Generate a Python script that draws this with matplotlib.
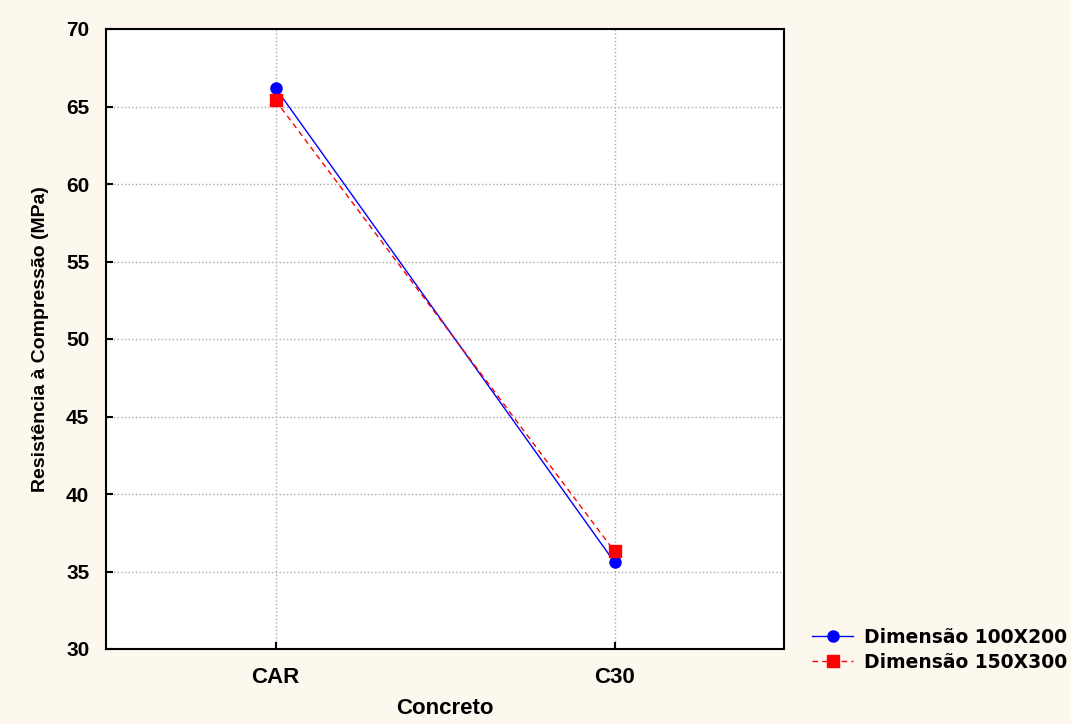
import matplotlib
matplotlib.use("Agg")
import matplotlib.pyplot as plt

categorias = ["CAR", "C30"]
dim_100x200 = [66.2, 35.6]
dim_150x300 = [65.4, 36.3]
rotulos = ["Dimensão 100X200", "Dimensão 150X300"]

plt.rcParams['font.family'] = ['Liberation Sans', 'DejaVu Sans']

fig = plt.figure(figsize=(10.71, 7.24), dpi=100)
fig.patch.set_facecolor('#fdf8ee')
ax = fig.add_axes([106 / 1071, 1 - 649 / 724, 678 / 1071, 620 / 724])
ax.set_facecolor('white')

x = range(len(categorias))
ax.plot(x, dim_100x200, color='blue', linestyle='-', linewidth=1,
        marker='o', markersize=8, label=rotulos[0])
ax.plot(x, dim_150x300, color='red', linestyle=(0, (4, 3)), linewidth=1,
        marker='s', markersize=8, label=rotulos[1])

ax.set_xlim(-0.5, 1.5)
ax.set_ylim(30, 70)
ax.set_xticks(list(x))
ax.set_xticklabels(categorias, fontsize=16, fontweight='bold')
ax.set_yticks(range(30, 71, 5))
ax.tick_params(axis='y', labelsize=15, direction='in', length=5, width=1.5, pad=12)
ax.tick_params(axis='x', direction='in', length=5, width=1.5, pad=13)
for lab in ax.get_yticklabels():
    lab.set_fontweight('bold')
ax.grid(True, color='#aaaaaa', linestyle=':', linewidth=1)
for s in ax.spines.values():
    s.set_linewidth(1.5)

ax.set_xlabel('Concreto', fontsize=16, fontweight='bold', labelpad=7)
ax.set_ylabel('Resistência à Compressão (MPa)', fontsize=14, fontweight='bold',
              labelpad=12)

fig.legend(loc='upper left', bbox_to_anchor=(795 / 1071, 1 - 611 / 724),
           frameon=False, prop={'size': 13.5, 'weight': 'bold', 'family': 'DejaVu Sans'},
           handlelength=2.2, handletextpad=0.6, labelspacing=0.3)

fig.savefig('out.png', dpi=100, facecolor=fig.get_facecolor())
